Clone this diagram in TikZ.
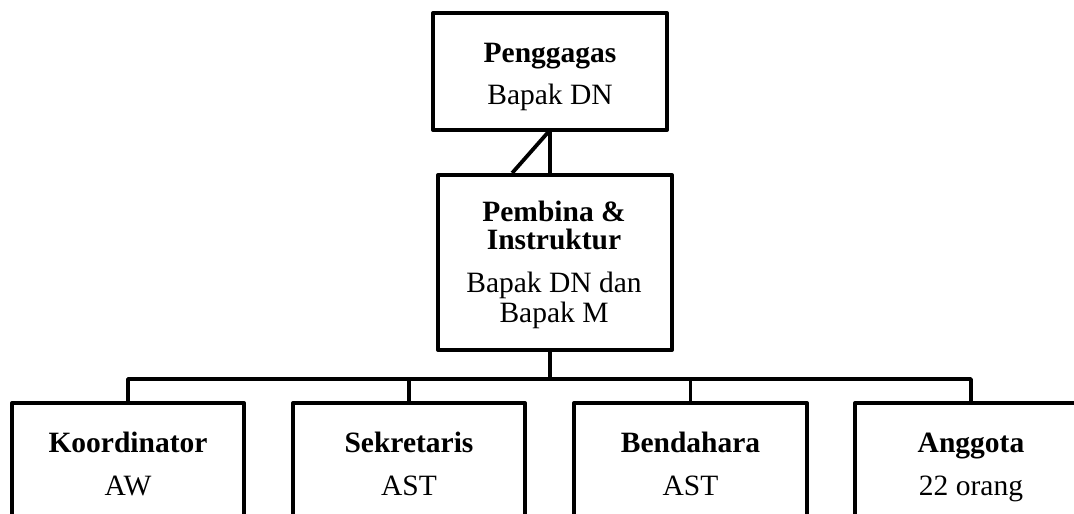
\documentclass[tikz,border=0pt]{standalone}
\usepackage{fontspec}
\setmainfont{Liberation Serif}
\usetikzlibrary{calc}
\begin{document}
\begin{tikzpicture}[x=1pt,y=-1pt,
  box/.style={draw=black,line width=4pt,fill=white,inner sep=0pt,minimum width=#1,line join=round},
  conn/.style={draw=black,line width=3.8pt,line join=round},
  lbl/.style={anchor=base,inner sep=0pt,font=\fontsize{29.5}{29.5}\selectfont},
  blbl/.style={lbl,font=\fontsize{29.5}{29.5}\selectfont\bfseries}]
\fill[white] (0,0) rectangle (1074,514);
\useasboundingbox (0,0) rectangle (1074,514);
\clip (0,0) rectangle (1074,514);
% boxes
\node[box=234pt,minimum height=117pt] (top) at (550,71.5) {};
\node[box=234pt,minimum height=175pt] (mid) at (555,262.5) {};
\node[box=232pt,minimum height=157pt] (kor) at (128,481.5) {};
\node[box=232pt,minimum height=157pt] (sek) at (409,481.5) {};
\node[box=233pt,minimum height=157pt] (ben) at (690.5,481.5) {};
\node[box=232pt,minimum height=157pt] (ang) at (971,481.5) {};
% connectors
\coordinate (bus) at (550,379);
\draw[conn] (top.south) -- (top.south |- mid.north);
\draw[conn] ($(top.south west)!0.493!(top.south east)$) -- ($(mid.north west)!0.32!(mid.north east)$);
\draw[conn] (bus |- mid.south) -- (bus);
\draw[conn] (kor.north) -- (kor.north |- bus) -- (ang.north |- bus) -- (ang.north);
\draw[conn] (sek.north) -- (sek.north |- bus);
\draw[conn] (ben.north) -- (ben.north |- bus);
% texts
\node[blbl] (t1) at (550,62) {Penggagas};
\node[lbl] (t2) at (550,104) {Bapak DN};
\node[blbl] (m1) at (554,221) {Pembina \&};
\node[blbl] (m2) at (554,249) {Instruktur};
\node[lbl] (m3) at (554,292) {Bapak DN dan};
\node[lbl] (m4) at (554,322) {Bapak M};
\node[blbl] (k1) at (128,452) {Koordinator};
\node[lbl] (k2) at (128,495) {AW};
\node[blbl] (s1) at (409,452) {Sekretaris};
\node[lbl] (s2) at (409,495) {AST};
\node[blbl] (b1) at (690.5,452) {Bendahara};
\node[lbl] (b2) at (690.5,495) {AST};
\node[blbl] (a1) at (971,452) {Anggota};
\node[lbl] (a2) at (971,495) {22 orang};
\end{tikzpicture}
\end{document}
